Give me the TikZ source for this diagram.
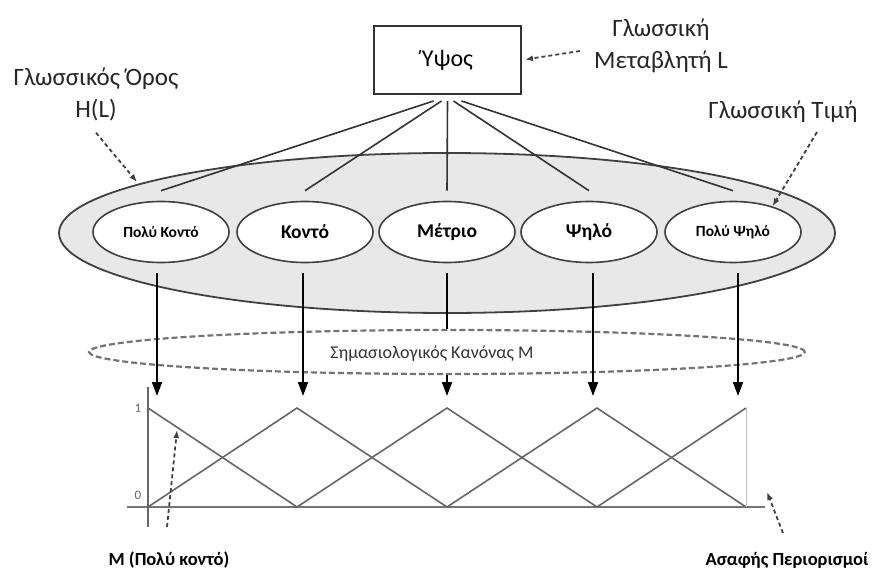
\documentclass[tikz,border=0pt]{standalone}
\usepackage{fontspec}
\setmainfont{Carlito}
\usetikzlibrary{shapes.geometric,arrows.meta}

\begin{document}
\begin{tikzpicture}[x=1pt,y=-1pt,
  fan/.style={draw=black!80,line width=1.6pt},
  down/.style={draw=black,line width=1.8pt,-{Triangle[length=14pt,width=10pt]}},
  note/.style={draw=black!75,line width=1.8pt,dash pattern=on 4pt off 3pt,-{Latex[length=8pt,width=6pt]}},
  value/.style={ellipse,draw=black!75,line width=1.6pt,fill=white,minimum width=136pt,minimum height=61pt,inner sep=0pt},
  big/.style={font=\bfseries\fontsize{19.5}{20}\selectfont},
  small/.style={font=\bfseries\fontsize{15.5}{16}\selectfont},
  curve/.style={draw=black!60,line width=1.6pt},
  lbl/.style={font=\fontsize{25}{32}\selectfont,inner sep=0pt,align=center,text=black!85},
  foot/.style={font=\bfseries\fontsize{18.5}{19}\selectfont,inner sep=0pt},
]
\useasboundingbox (0,0) rectangle (880,572);

% linguistic variable
\node[draw=black!80,line width=2pt,minimum width=147pt,minimum height=68pt,inner sep=0pt,
      font=\fontsize{24}{24}\selectfont] (hv) at (447.5,60) {Ύψος};

% term set H(L)
\node[ellipse,draw=black!75,line width=1.8pt,fill=black!9,minimum width=776pt,minimum height=160pt] (term) at (447,233) {};

% linguistic values
\node[value,small] (pk) at (161,232) {Πολύ Κοντό};
\node[value,big] (ko) at (305,232) {Κοντό};
\node[value,big] (me) at (447,232) {Μέτριο};
\node[value,big] (ps) at (589,232) {Ψηλό};
\node[value,small] (pp) at (733,232) {Πολύ Ψηλό};

% fan from the variable to its values
\draw[fan] ([xshift=-14pt,yshift=-6pt]hv.south) -- ([yshift=10pt]pk.north);
\draw[fan] ([xshift=-6pt,yshift=-6pt]hv.south) -- ([yshift=10pt]ko.north);
\draw[fan] ([yshift=-6pt]hv.south) -- ([yshift=10pt]me.north);
\draw[fan] ([xshift=6pt,yshift=-6pt]hv.south) -- ([yshift=10pt]ps.north);
\draw[fan] ([xshift=14pt,yshift=-6pt]hv.south) -- ([yshift=10pt]pp.north);

% semantic rule M
\node[ellipse,draw=black!55,line width=2.2pt,dash pattern=on 6pt off 3pt,minimum width=716pt,minimum height=44pt] (rule) at (447,352) {};
\node[font=\fontsize{18}{18}\selectfont,text=black!80,inner sep=0pt] (rt) at (432,354) {Σημασιολογικός Κανόνας Μ};

% arrow tips above the membership functions
\coordinate (a1) at (157,396);
\coordinate (a2) at (303,396);
\coordinate (a3) at (447,396);
\coordinate (a4) at (593,396);
\coordinate (a5) at (738,396);

\draw[down] (a1 |- pk.south) ++(0,10) -- (a1);
\draw[down] (a2 |- ko.south) ++(0,10) -- (a2);
\draw[line width=1.8pt] (me.south) ++(0,10) -- (me.south |- rule.north);
\draw[down] (me.south |- rule.south) -- (a3);
\draw[down] (a4 |- ps.south) ++(0,10) -- (a4);
\draw[down] (a5 |- pp.south) ++(0,10) -- (a5);

% membership functions
\draw[black!55,line width=2pt] (127,507) -- (765,507);
\draw[black!60,line width=1.4pt] (148,387) -- (148,527);
\node[font=\fontsize{13}{13}\selectfont,text=black!60,inner sep=0pt] (one) at (138,408) {1};
\node[font=\fontsize{13}{13}\selectfont,text=black!60,inner sep=0pt] (zero) at (138,495) {0};
\draw[curve] (148,408) -- (297,507);
\draw[curve] (148,507) -- (297,408) -- (447,507);
\draw[curve] (297,507) -- (447,408) -- (597,507);
\draw[curve] (447,507) -- (597,408) -- (746,507);
\draw[curve] (597,507) -- (746,408);
\draw[black!25,line width=0.8pt] (746,408) -- (746,507);

% annotations
\node[lbl] (hl) at (96,94) {Γλωσσικός Όρος\\H(L)};
\coordinate (hlend) at (137,182);
\draw[note] ([yshift=-12pt]hl.south) -- (hlend);

\node[lbl] (gv) at (661,46) {Γλωσσική\\Μεταβλητή L};
\coordinate (gvs) at (580,51);
\draw[note,shorten >=3pt] (gvs) -- (hv.east);

\node[lbl] (gt) at (783,112) {Γλωσσική Τιμή};
\coordinate (gts) at (817,132);
\draw[note] (gts) -- (pp.33);

\node[foot] (mf) at (169,560) {M (Πολύ κοντό)};
\coordinate (mfs) at (167,527);
\coordinate (mfe) at (177,430);
\draw[note] (mfs) -- (mfe);

\node[foot] (fc) at (787,560) {Ασαφής Περιορισμοί};
\coordinate (fcs) at (783,533);
\coordinate (fce) at (767,492);
\draw[note] (fcs) -- (fce);
\end{tikzpicture}
\end{document}
